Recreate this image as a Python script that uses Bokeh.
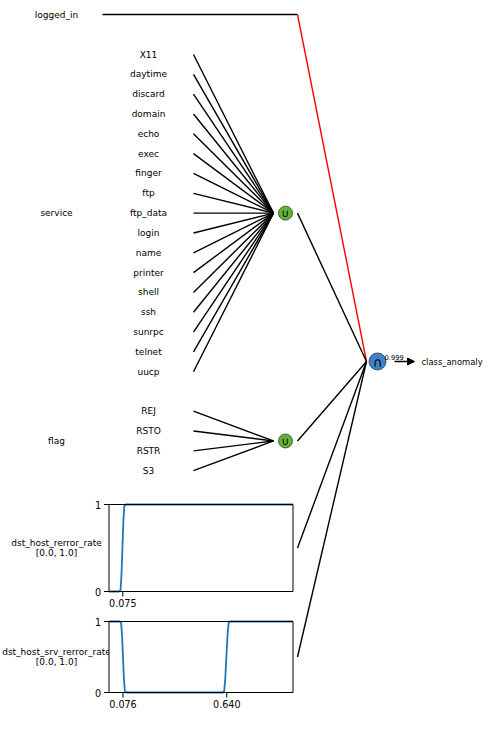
from bokeh.plotting import figure
from bokeh.models import Range1d, Arrow, NormalHead
from bokeh.core.properties import value
from bokeh.embed import file_html
from bokeh.resources import INLINE
import math

# ---------------- data ----------------
target_label = "class_anomaly"
target_confidence = "0.999"

logged_in_label = "logged_in"

service_label = "service"
service_values = ["X11", "daytime", "discard", "domain", "echo", "exec", "finger",
                  "ftp", "ftp_data", "login", "name", "printer", "shell", "ssh",
                  "sunrpc", "telnet", "uucp"]

flag_label = "flag"
flag_values = ["REJ", "RSTO", "RSTR", "S3"]

rerror_label = ["dst_host_rerror_rate", "[0.0, 1.0]"]
rerror_x = [0.0, 0.055, 0.063, 0.068, 0.073, 0.078, 0.083, 0.090, 1.0]
rerror_y = [0.0, 0.0, 0.02, 0.2, 0.5, 0.8, 0.98, 1.0, 1.0]
rerror_ticks = [0.075]
rerror_tick_labels = ["0.075"]

srv_label = ["dst_host_srv_rerror_rate", "[0.0, 1.0]"]
srv_x = [0.0, 0.058, 0.066, 0.071, 0.076, 0.081, 0.086, 0.094,
         0.618, 0.626, 0.632, 0.638, 0.644, 0.650, 0.658, 1.0]
srv_y = [1.0, 1.0, 0.98, 0.8, 0.5, 0.2, 0.02, 0.0,
         0.0, 0.02, 0.2, 0.5, 0.8, 0.98, 1.0, 1.0]
srv_ticks = [0.076, 0.640]
srv_tick_labels = ["0.076", "0.640"]

y_ticks = [0, 1]
y_tick_labels = ["0", "1"]

# ---------------- layout (pixels of the picture) ----------------
W, H = 484, 713
FONT = value("DejaVu Sans")
LABEL_SIZE = "9px"
TICK_SIZE = "9.6px"

ROW = 19.83
X_FEAT, X_VAL, X_EDGE0, X_MERGE, X_UNION, X_OUT = 56, 148, 193, 273, 285, 297
X_LOGGED0 = 102
X_JOIN, X_AND, Y_AND = 366, 377, 361
Y_LOGGED = 14
Y_SERVICE0 = 54
Y_FLAG0 = 410.7
INSET_LEFT, INSET_W = 108.5, 184.0
INSET_TOP = [504.0, 621.0]
INSET_H = [87.0, 71.0]
XTICK_LABEL_OFFSET = 7

GREEN = "#63b23b"
BLUE = "#3d82c6"
CURVE = "#1f77b4"
LW = 1.4

p = figure(width=W, height=H, x_range=Range1d(0, W), y_range=Range1d(H, 0),
           x_axis_type=None, y_axis_type=None, toolbar_location=None,
           output_backend="svg", min_border=0, outline_line_color=None)
p.background_fill_color = "white"
p.border_fill_color = "white"


def txt(x, y, t, size=LABEL_SIZE, align="center", baseline="middle", **kw):
    p.text(x=x, y=y, text=t, text_font=FONT, text_font_size=size,
           text_align=align, text_baseline=baseline, text_color="black", **kw)


# ---- logged_in ----
txt([X_FEAT], [Y_LOGGED], [logged_in_label])
p.segment(x0=[X_LOGGED0], y0=[Y_LOGGED], x1=[X_OUT], y1=[Y_LOGGED], line_color="black", line_width=LW)
p.segment(x0=[X_OUT], y0=[Y_LOGGED], x1=[X_JOIN], y1=[Y_AND], line_color="red", line_width=LW)


# ---- categorical groups with union nodes ----
def group(label, values, y0):
    ys = [y0 + i * ROW for i in range(len(values))]
    yc = sum(ys) / len(ys)
    txt([X_FEAT], [yc], [label])
    txt([X_VAL] * len(values), ys, values)
    p.segment(x0=[X_EDGE0] * len(ys), y0=ys, x1=[X_MERGE] * len(ys), y1=[yc] * len(ys),
              line_color="black", line_width=LW)
    p.segment(x0=[X_OUT], y0=[yc], x1=[X_JOIN], y1=[Y_AND], line_color="black", line_width=LW)
    p.scatter(x=[X_UNION], y=[yc], size=14, fill_color=GREEN, line_color="#2a4a1a", line_width=0.8)
    txt([X_UNION], [yc + 0.5], ["\u222a"], size="11px")


group(service_label, service_values, Y_SERVICE0)
group(flag_label, flag_values, Y_FLAG0)

# ---- numeric insets ----
insets = [(rerror_label, rerror_x, rerror_y, rerror_ticks, rerror_tick_labels),
          (srv_label, srv_x, srv_y, srv_ticks, srv_tick_labels)]

p.extra_x_ranges = {"inset": Range1d((0 - INSET_LEFT) / INSET_W, (W - INSET_LEFT) / INSET_W)}
for k, (lab, xs, ys, ticks, tlabels) in enumerate(insets):
    top, h = INSET_TOP[k], INSET_H[k]
    bottom = top + h
    yname = "inset%d" % k
    p.extra_y_ranges[yname] = Range1d((bottom - H) / h, bottom / h)
    yc = top + h / 2
    # label (drawn first so the axes box covers any overflow)
    txt([X_FEAT, X_FEAT], [yc - 4.7, yc + 5.0], lab)
    p.quad(left=[0], right=[1], bottom=[0], top=[1], fill_color="white", line_color=None,
           x_range_name="inset", y_range_name=yname)
    p.line(x=xs, y=ys, line_color=CURVE, line_width=1.8,
           x_range_name="inset", y_range_name=yname)
    p.quad(left=[0], right=[1], bottom=[0], top=[1], fill_color=None, line_color="black",
           line_width=1.0, x_range_name="inset", y_range_name=yname)
    # y ticks
    p.ray(x=[0] * len(y_ticks), y=y_ticks, length=5, length_units="screen", angle=math.pi,
          line_color="black", line_width=1.0, x_range_name="inset", y_range_name=yname)
    p.text(x=[0] * len(y_ticks), y=y_ticks, text=y_tick_labels, text_font=FONT,
           text_font_size=TICK_SIZE, text_align="right", text_baseline="middle",
           x_offset=-8, text_color="black", x_range_name="inset", y_range_name=yname)
    # x ticks
    p.ray(x=ticks, y=[0] * len(ticks), length=5, length_units="screen", angle=-math.pi / 2,
          line_color="black", line_width=1.0, x_range_name="inset", y_range_name=yname)
    p.text(x=ticks, y=[0] * len(ticks), text=tlabels, text_font=FONT,
           text_font_size=TICK_SIZE, text_align="center", text_baseline="top",
           y_offset=XTICK_LABEL_OFFSET, text_color="black",
           x_range_name="inset", y_range_name=yname)
    # edge to the conjunction
    p.segment(x0=[X_OUT], y0=[yc], x1=[X_JOIN], y1=[Y_AND], line_color="black", line_width=LW)

# ---- conjunction node and output ----
p.scatter(x=[X_AND], y=[Y_AND], size=17, fill_color=BLUE, line_color="#1d3550", line_width=0.8)
txt([X_AND], [Y_AND + 0.5], ["\u2229"], size="13px")
txt([X_AND + 7], [Y_AND - 4], [target_confidence], size="6.7px", align="left", baseline="alphabetic")
p.add_layout(Arrow(end=NormalHead(size=7, fill_color="black", line_color="black"),
                   x_start=394, y_start=Y_AND, x_end=414, y_end=Y_AND,
                   line_color="black", line_width=LW))
txt([421], [Y_AND], [target_label], size="8.4px", align="left")

open("out.html", "w").write(file_html(p, INLINE))
